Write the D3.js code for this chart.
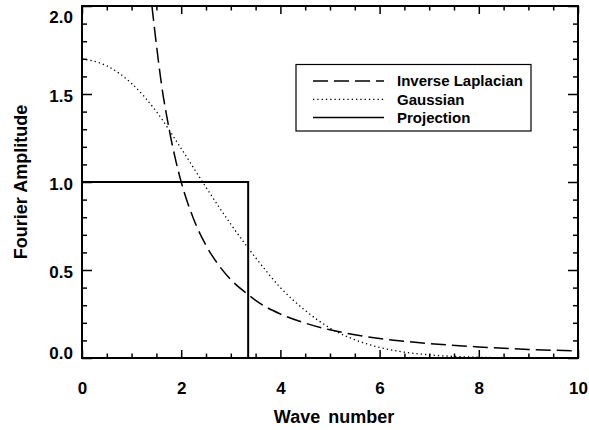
<!doctype html>
<html>
<head>
<meta charset="UTF-8">
<script src="https://d3js.org/d3.v7.min.js"></script>
<style>
  body { margin: 0; background: #fff; }
  text { font-family: "Liberation Sans", Arial, sans-serif; fill: #000; }
</style>
</head>
<body>
<svg width="589" height="430"></svg>
<script>
// values
const waveK = [1.41, 1.5, 1.6, 1.75, 1.9, 2, 2.25, 2.5, 2.75, 3, 3.35, 3.5, 4, 4.5, 5, 5.5, 6, 7, 8, 9, 10];
const invLaplacian = [2.0, 1.78, 1.56, 1.31, 1.11, 1.0, 0.79, 0.64, 0.53, 0.445, 0.36, 0.327, 0.25, 0.198, 0.16, 0.132, 0.111, 0.082, 0.063, 0.049, 0.04];

const gaussK = [0, 0.5, 1, 1.5, 2, 2.5, 3, 3.5, 4, 4.5, 5, 5.5, 6, 6.5, 7, 7.5, 8, 8.5, 9, 9.5, 10];
const gaussian = [1.70, 1.66, 1.56, 1.40, 1.19, 0.97, 0.76, 0.57, 0.40, 0.27, 0.17, 0.104, 0.06, 0.033, 0.018, 0.009, 0.004, 0.002, 0.001, 0, 0];

const projK = [0, 3.35, 3.35];
const projection = [1.0, 1.0, 0.0];

const xTicks = [0, 2, 4, 6, 8, 10];
const yTicks = [0, 0.5, 1.0, 1.5, 2.0];
const legendNames = ["Inverse Laplacian", "Gaussian", "Projection"];

const svg = d3.select("svg");
const L = 82, R = 578, T = 6, B = 358;

const x = d3.scaleLinear().domain([0, 10]).range([L, R]);
const y = d3.scaleLinear().domain([0, 2]).range([B, T]);

svg.append("clipPath").attr("id", "clip")
  .append("rect").attr("x", L).attr("y", T).attr("width", R - L).attr("height", B - T);

const plot = svg.append("g").attr("clip-path", "url(#clip)");

const line = d3.line().x(d => x(d[0])).y(d => y(d[1])).curve(d3.curveMonotoneX);

plot.append("path")
  .datum(waveK.map((k, i) => [k, invLaplacian[i]]))
  .attr("d", line)
  .attr("fill", "none").attr("stroke", "#000").attr("stroke-width", 1.5)
  .attr("stroke-dasharray", "15,6");

plot.append("path")
  .datum(gaussK.map((k, i) => [k, gaussian[i]]))
  .attr("d", line)
  .attr("fill", "none").attr("stroke", "#000").attr("stroke-width", 1.3)
  .attr("stroke-dasharray", "1.3,3");

plot.append("path")
  .datum(projK.map((k, i) => [k, projection[i]]))
  .attr("d", d3.line().x(d => x(d[0])).y(d => y(d[1])))
  .attr("fill", "none").attr("stroke", "#000").attr("stroke-width", 2);

// axes, IDL style box with inward ticks
const minorX = d3.range(0, 10.001, 0.5).filter(v => Math.abs(v % 2) > 0.01 && Math.abs(v % 2 - 2) > 0.01);
const minorY = d3.range(0, 2.001, 0.1).filter(v => Math.abs(Math.round(v * 10) % 5) !== 0);

function noDomain(g) { g.select(".domain").remove(); }

svg.append("g").attr("transform", `translate(0,${B})`)
  .call(d3.axisBottom(x).tickValues(minorX).tickSize(-4.5).tickFormat("")).call(noDomain);
const xb = svg.append("g").attr("transform", `translate(0,${B})`)
  .call(d3.axisBottom(x).tickValues(xTicks).tickSize(-8).tickPadding(24).tickFormat(d3.format("d")));
noDomain(xb);
xb.selectAll("text").style("font-size", "17px").style("font-weight", "bold");

svg.append("g").attr("transform", `translate(0,${T})`)
  .call(d3.axisTop(x).tickValues(minorX).tickSize(-4.5).tickFormat("")).call(noDomain);
svg.append("g").attr("transform", `translate(0,${T})`)
  .call(d3.axisTop(x).tickValues(xTicks).tickSize(-8).tickFormat("")).call(noDomain);

svg.append("g").attr("transform", `translate(${L},0)`)
  .call(d3.axisLeft(y).tickValues(minorY).tickSize(-5).tickFormat("")).call(noDomain);
const yl = svg.append("g").attr("transform", `translate(${L},0)`)
  .call(d3.axisLeft(y).tickValues(yTicks).tickSize(-10).tickPadding(9).tickFormat(d3.format(".1f")));
noDomain(yl);
yl.selectAll("text").style("font-size", "17px").style("font-weight", "bold")
  .attr("dy", d => d === 2 ? "0.97em" : d === 0 ? "0.0em" : "0.42em");

svg.append("g").attr("transform", `translate(${R},0)`)
  .call(d3.axisRight(y).tickValues(minorY).tickSize(-5).tickFormat("")).call(noDomain);
svg.append("g").attr("transform", `translate(${R},0)`)
  .call(d3.axisRight(y).tickValues(yTicks).tickSize(-10).tickFormat("")).call(noDomain);

svg.selectAll(".tick line").attr("stroke", "#000").attr("stroke-width", 1.5);

svg.append("rect").attr("x", L).attr("y", T).attr("width", R - L).attr("height", B - T)
  .attr("fill", "none").attr("stroke", "#000").attr("stroke-width", 2);

// axis titles
svg.append("text").attr("x", (L + R) / 2 + 4).attr("y", 423)
  .attr("text-anchor", "middle").style("font-size", "18px").style("font-weight", "bold")
  .attr("word-spacing", "3px")
  .text("Wave number");
svg.append("text").attr("transform", `translate(27,${(T + B) / 2}) rotate(-90)`)
  .attr("text-anchor", "middle").style("font-size", "18px").style("font-weight", "bold")
  .text("Fourier Amplitude");

// legend
const lg = svg.append("g");
lg.append("rect").attr("x", 296).attr("y", 64.5).attr("width", 235).attr("height", 66.5)
  .attr("fill", "#fff").attr("stroke", "#000").attr("stroke-width", 1.2);
const dashes = ["15,6", "1.3,3", null];
const widths = [1.5, 1.3, 1.5];
legendNames.forEach((name, i) => {
  const ly = 81 + i * 18.3;
  const ln = lg.append("line").attr("x1", 313).attr("x2", 384).attr("y1", ly).attr("y2", ly)
    .attr("stroke", "#000").attr("stroke-width", widths[i]);
  if (dashes[i]) ln.attr("stroke-dasharray", dashes[i]);
  lg.append("text").attr("x", 397).attr("y", ly).attr("dy", "0.36em")
    .style("font-size", "15px").style("font-weight", "bold").text(name);
});
</script>
</body>
</html>
